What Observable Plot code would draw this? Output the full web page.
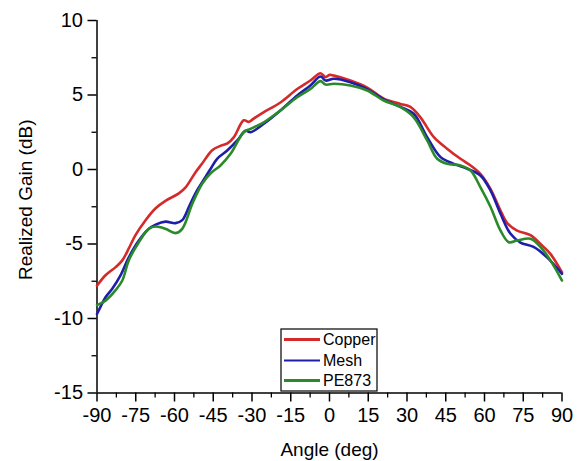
<!DOCTYPE html>
<html>
<head>
<meta charset="utf-8">
<script src="https://cdn.jsdelivr.net/npm/d3@7"></script>
<script src="https://cdn.jsdelivr.net/npm/@observablehq/plot@0.6"></script>
<style>
  html, body { margin: 0; padding: 0; background: #fff; }
  #chart { width: 582px; height: 461px; }
</style>
</head>
<body>
<div id="chart"></div>
<script>
// ---- data ----
const seriesNames = ["Copper", "Mesh", "PE873"];
const seriesColors = ["#d42a2a", "#1e1eaa", "#2a8a2a"];

const copperAngle = [-90,-86.7,-82.8,-80.2,-77.7,-75.1,-71.2,-67.3,-63.5,-58.3,-55.7,-51.9,-49.3,-45.4,-42,-39.5,-37,-33.2,-31.2,-29.5,-25.4,-19,-12.5,-7.4,-3.5,-1.5,0,1.7,8.1,14.6,21,27.5,31.3,35.2,40.4,45.5,50.7,54.6,58.4,62.3,66.2,68.8,72.6,77.8,81.7,85.5,90];
const copperGain  = [-7.8,-7.1,-6.55,-6.1,-5.3,-4.4,-3.4,-2.6,-2.1,-1.6,-1.2,-0.2,0.4,1.3,1.6,1.75,2.17,3.3,3.2,3.4,3.85,4.5,5.4,5.97,6.46,6.2,6.35,6.3,5.97,5.5,4.75,4.4,4.2,3.5,2.17,1.4,0.72,0.27,-0.3,-1.3,-2.75,-3.6,-4.1,-4.4,-5.0,-5.66,-6.9];

const meshAngle = [-90,-88.7,-86.7,-84.1,-80.9,-77.7,-73.8,-69.9,-67.3,-63.5,-59.6,-57,-54.4,-51.9,-48,-46,-43.5,-39.6,-35.7,-32.5,-30.6,-25.4,-19,-12.5,-7.4,-3.5,-1.5,1.7,8.1,14.6,21,27.5,32.6,37.8,43,48.1,53.3,58.4,62.3,66.2,70,73.9,79,84.2,90];
const meshGain  = [-9.7,-9.24,-8.57,-8.0,-7.1,-5.9,-4.77,-3.98,-3.7,-3.5,-3.6,-3.4,-2.5,-1.6,-0.5,0.05,0.72,1.27,1.95,2.6,2.5,3.07,3.96,4.97,5.64,6.24,5.97,6.09,5.86,5.4,4.7,4.2,3.74,2.17,0.83,0.38,0.05,-0.4,-1.4,-2.97,-4.3,-4.9,-5.2,-5.9,-7.0];

const peAngle = [-90,-86.7,-82.8,-80.2,-77.7,-73.8,-69.9,-67.3,-63.5,-59.6,-57,-53.1,-49.3,-46,-42.2,-38.3,-33.2,-30.6,-25.4,-19,-12.5,-7.4,-3.5,-1.5,1.7,8.1,14.6,21,27.5,32.6,37.8,41.7,45.5,50.7,54.6,58.4,62.3,66.2,69.4,72.6,77.8,81.7,85.5,90];
const peGain  = [-9.1,-8.8,-8.1,-7.45,-6.1,-4.88,-3.98,-3.83,-3.98,-4.27,-3.98,-2.3,-0.96,-0.25,0.27,1.05,2.5,2.73,3.17,3.96,4.85,5.4,5.93,5.7,5.75,5.64,5.3,4.63,4.18,3.5,1.95,0.72,0.38,0.27,-0.07,-1.18,-2.5,-4.1,-4.88,-4.77,-4.65,-5.2,-6.1,-7.45];

const xMajorTicks = [-90,-75,-60,-45,-30,-15,0,15,30,45,60,75,90];
const xMinorTicks = [-82.5,-67.5,-52.5,-37.5,-22.5,-7.5,7.5,22.5,37.5,52.5,67.5,82.5];
const yMajorTicks = [-15,-10,-5,0,5,10];
const yMinorTicks = [-12.5,-7.5,-2.5,2.5,7.5];
const xLabel = "Angle (deg)";
const yLabel = "Realized Gain (dB)";

// ---- build table ----
const toRows = (name, a, g) => a.map((v, i) => ({series: name, angle: v, gain: g[i]}));
const rows = [
  ...toRows("Copper", copperAngle, copperGain),
  ...toRows("Mesh", meshAngle, meshGain),
  ...toRows("PE873", peAngle, peGain)
];

const fmt = d => String(d);
const font = "'Liberation Sans', Arial, sans-serif";

const chart = Plot.plot({
  width: 582,
  height: 461,
  marginLeft: 96.5,
  marginRight: 20.5,
  marginTop: 20,
  marginBottom: 68.5,
  style: {fontFamily: font, fontSize: "20px", color: "#000", background: "#fff"},
  x: {domain: [-90, 90], axis: null},
  y: {domain: [-15, 10], axis: null},
  color: {domain: seriesNames, range: seriesColors},
  marks: [
    Plot.axisX({ticks: xMinorTicks, tickSize: 5, text: null, strokeWidth: 1.3, label: null}),
    Plot.axisX({ticks: xMajorTicks, tickSize: 9, tickPadding: 6, tickFormat: fmt, strokeWidth: 1.5, fontSize: 20, label: null}),
    Plot.axisY({ticks: yMinorTicks, tickSize: 5, text: null, strokeWidth: 1.3, label: null}),
    Plot.axisY({ticks: yMajorTicks, tickSize: 9, tickPadding: 5, tickFormat: fmt, strokeWidth: 1.5, fontSize: 20, label: null}),
    Plot.ruleX([-90], {strokeWidth: 1.5}),
    Plot.ruleY([-15], {strokeWidth: 1.5}),
    Plot.line(rows, {x: "angle", y: "gain", z: "series", stroke: "series", strokeWidth: 2.6, curve: "catmull-rom"}),
    Plot.text([xLabel], {frameAnchor: "bottom", dy: 57, fontSize: 19, lineAnchor: "middle", textAnchor: "middle"}),
    Plot.text([yLabel], {frameAnchor: "left", dx: -71, dy: -7, rotate: -90, fontSize: 19, lineAnchor: "middle", textAnchor: "middle"})
  ]
});

document.getElementById("chart").appendChild(chart);

// ---- legend box ----
const svg = d3.select(chart);
const lg = svg.append("g").attr("font-family", font).attr("font-size", 16).attr("text-anchor", "start");
lg.append("rect").attr("x", 281).attr("y", 329).attr("width", 96).attr("height", 62)
  .attr("fill", "#fff").attr("stroke", "#000").attr("stroke-width", 1.2);
const rowY = [339.5, 360.5, 380.5];
const lw = [3, 2, 3];
seriesNames.forEach((n, i) => {
  lg.append("line").attr("x1", 284).attr("x2", 320).attr("y1", rowY[i]).attr("y2", rowY[i])
    .attr("stroke", seriesColors[i]).attr("stroke-width", lw[i]);
  lg.append("text").attr("x", 323).attr("y", rowY[i]).attr("dy", "0.35em").text(n);
});
</script>
</body>
</html>
